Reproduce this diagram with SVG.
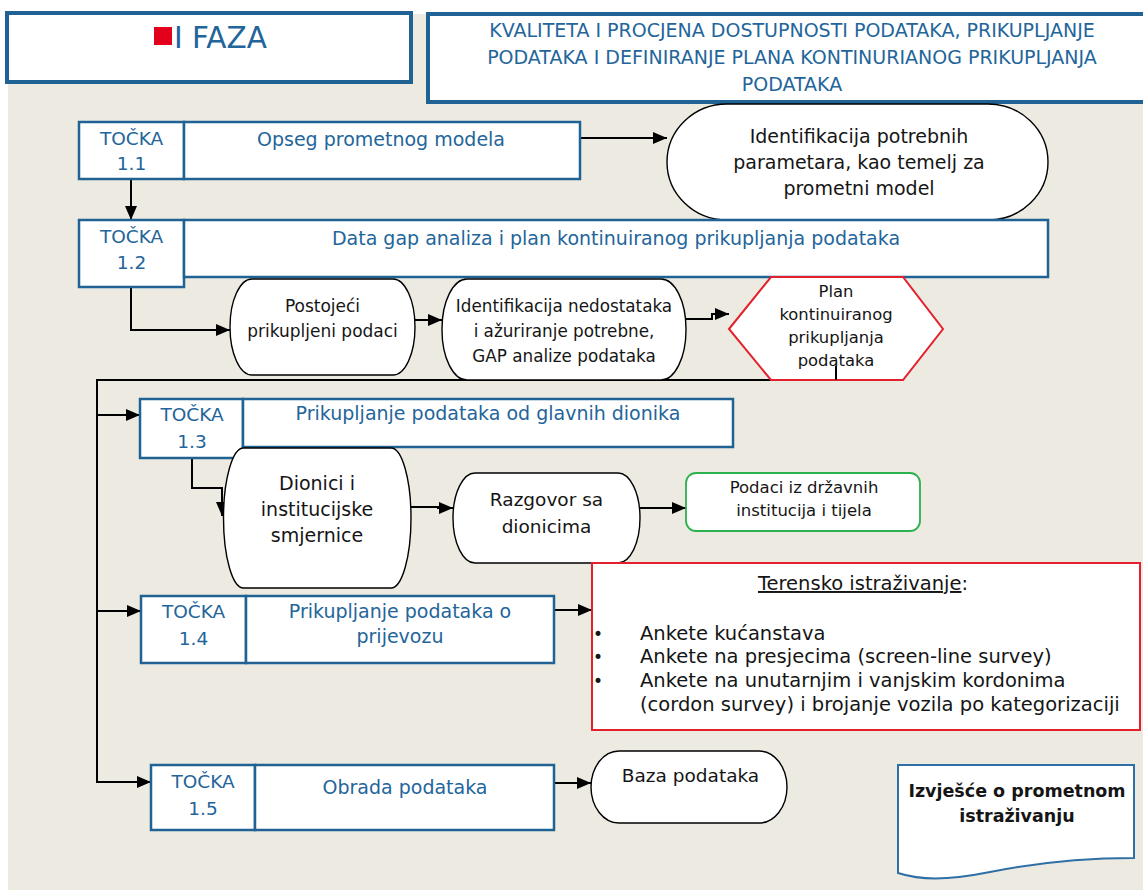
<svg xmlns="http://www.w3.org/2000/svg" width="1143" height="890" viewBox="0 0 1143 890">
<defs>
<marker id="ah" markerWidth="14" markerHeight="12" refX="14" refY="6" orient="auto" markerUnits="userSpaceOnUse"><path d="M0,0 L14,6 L0,12 Z" fill="#000"/></marker>
<style>
.bg{fill:#EDEBE1}
.hdr{fill:#fff;stroke:#1F6293;stroke-width:4}
.box{fill:#fff;stroke:#1F6293;stroke-width:2.5}
.term{fill:#fff;stroke:#000;stroke-width:1.4}
.red{fill:#fff;stroke:#E3202B;stroke-width:2}
.conn{fill:none;stroke:#000;stroke-width:2}
text{font-family:"DejaVu Sans","Liberation Sans",sans-serif}
.bt{fill:#23659A;font-size:19px;text-anchor:middle}
.tk{fill:#23659A;font-size:18.5px;text-anchor:middle}
.k{fill:#151515;text-anchor:middle}
</style>
</defs>
<rect width="1143" height="890" fill="#fff"/>
<rect class="bg" x="8" y="14" width="1135" height="876"/>

<g id="faza">
<rect class="hdr" x="7" y="13" width="404" height="69"/>
<rect x="154" y="27" width="18" height="18" fill="#E2001A"/>
<text x="174" y="48" font-size="29.5" fill="#23659A">I FAZA</text>
</g>

<g id="title">
<rect class="hdr" x="428" y="14" width="730" height="88"/>
<text class="bt" x="792" y="37">KVALITETA I PROCJENA DOSTUPNOSTI PODATAKA, PRIKUPLJANJE</text>
<text class="bt" x="792" y="64">PODATAKA I DEFINIRANJE PLANA KONTINURIANOG PRIKUPLJANJA</text>
<text class="bt" x="792" y="91">PODATAKA</text>
</g>

<g id="connectors">
<path class="conn" d="M580,138 H667" marker-end="url(#ah)"/>
<path class="conn" d="M131,179 V220" marker-end="url(#ah)"/>
<path class="conn" d="M131,287 V330 H230" marker-end="url(#ah)"/>
<path class="conn" d="M415,320 H442" marker-end="url(#ah)"/>
<path class="conn" d="M686,319 H712 V314 H729" marker-end="url(#ah)"/>
<path class="conn" d="M836,366 V380 H97 V782 H151" marker-end="url(#ah)"/>
<path class="conn" d="M97,415 H140" marker-end="url(#ah)"/>
<path class="conn" d="M97,611 H141" marker-end="url(#ah)"/>
<path class="conn" d="M192,458 V488 H222 V516" marker-end="url(#ah)"/>
<path class="conn" d="M410,507 H438 V508 H453" marker-end="url(#ah)"/>
<path class="conn" d="M640,508 H686" marker-end="url(#ah)"/>
<path class="conn" d="M554,610 H592" marker-end="url(#ah)"/>
<path class="conn" d="M554,783 H591" marker-end="url(#ah)"/>
</g>

<g id="t11">
<rect class="box" x="79" y="122" width="105" height="57"/>
<rect class="box" x="184" y="122" width="396" height="57"/>
<text class="tk" x="131.5" y="145">TOČKA</text>
<text class="tk" x="131.5" y="170">1.1</text>
<text class="bt" x="381" y="146">Opseg prometnog modela</text>
</g>

<g id="ident">
<rect class="term" x="667" y="104" width="381" height="116" rx="60" ry="58"/>
<text class="k" font-size="19" x="859" y="143">Identifikacija potrebnih</text>
<text class="k" font-size="19" x="859" y="169">parametara, kao temelj za</text>
<text class="k" font-size="19" x="859" y="195">prometni model</text>
</g>

<g id="t12">
<rect class="box" x="79" y="220" width="105" height="67"/>
<rect class="box" x="184" y="220" width="864" height="57"/>
<text class="tk" x="131.5" y="243">TOČKA</text>
<text class="tk" x="131.5" y="269">1.2</text>
<text class="bt" x="616" y="245">Data gap analiza i plan kontinuiranog prikupljanja podataka</text>
</g>

<g id="postojeci">
<rect class="term" x="230" y="279" width="185" height="96" rx="22" ry="48"/>
<text class="k" font-size="17" x="322.5" y="312">Postojeći</text>
<text class="k" font-size="17" x="322.5" y="337">prikupljeni podaci</text>
</g>

<g id="nedostaci">
<rect class="term" x="442" y="279" width="244" height="101" rx="25" ry="50"/>
<text class="k" font-size="16.8" x="564" y="312">Identifikacija nedostataka</text>
<text class="k" font-size="16.8" x="564" y="337">i ažuriranje potrebne,</text>
<text class="k" font-size="16.8" x="564" y="362">GAP analize podataka</text>
</g>

<g id="plan">
<polygon class="red" points="729,329 771,277 903,277 943,329 903,380 771,380"/>
<text class="k" font-size="16.4" x="836" y="297">Plan</text>
<text class="k" font-size="16.4" x="836" y="320">kontinuiranog</text>
<text class="k" font-size="16.4" x="836" y="343">prikupljanja</text>
<text class="k" font-size="16.4" x="836" y="366">podataka</text>
</g>
<path class="conn" d="M836,366 V380"/>

<g id="t13">
<rect class="box" x="140" y="399" width="103" height="59"/>
<rect class="box" x="243" y="399" width="490" height="48"/>
<text class="tk" x="192" y="421">TOČKA</text>
<text class="tk" x="192" y="448">1.3</text>
<text class="bt" x="488" y="420">Prikupljanje podataka od glavnih dionika</text>
</g>

<g id="dionici">
<rect class="term" x="223.5" y="448" width="187.5" height="140" rx="20" ry="70"/>
<text class="k" font-size="19" x="317" y="490">Dionici i</text>
<text class="k" font-size="19" x="317" y="516">institucijske</text>
<text class="k" font-size="19" x="317" y="542">smjernice</text>
</g>

<g id="razgovor">
<rect class="term" x="453" y="473" width="187" height="90" rx="22" ry="45"/>
<text class="k" font-size="18.5" x="546.5" y="506">Razgovor sa</text>
<text class="k" font-size="18.5" x="546.5" y="533">dionicima</text>
</g>

<g id="podaci">
<rect x="686" y="473" width="234" height="58" rx="10" fill="#fff" stroke="#2DB14E" stroke-width="1.8"/>
<text class="k" font-size="16.5" x="804" y="493">Podaci iz državnih</text>
<text class="k" font-size="16.5" x="804" y="516">institucija i tijela</text>
</g>

<g id="terensko">
<rect class="red" x="592" y="563" width="548" height="167"/>
<text class="k" font-size="19.5" x="863" y="590"><tspan text-decoration="underline">Terensko istraživanje</tspan>:</text>
<g font-size="19.5" fill="#151515">
<text x="593" y="640" font-size="17">•</text>
<text x="593" y="663" font-size="17">•</text>
<text x="593" y="687" font-size="17">•</text>
<text x="640" y="640">Ankete kućanstava</text>
<text x="640" y="663">Ankete na presjecima (screen-line survey)</text>
<text x="640" y="687">Ankete na unutarnjim i vanjskim kordonima</text>
<text x="640" y="711">(cordon survey) i brojanje vozila po kategorizaciji</text>
</g>
</g>

<g id="t14">
<rect class="box" x="141" y="596" width="105" height="67"/>
<rect class="box" x="246" y="596" width="308" height="67"/>
<text class="tk" x="193.5" y="618">TOČKA</text>
<text class="tk" x="193.5" y="645">1.4</text>
<text class="bt" x="400" y="618">Prikupljanje podataka o</text>
<text class="bt" x="400" y="643">prijevozu</text>
</g>

<g id="t15">
<rect class="box" x="151" y="765" width="104" height="65"/>
<rect class="box" x="255" y="765" width="299" height="65"/>
<text class="tk" x="203" y="788">TOČKA</text>
<text class="tk" x="203" y="815">1.5</text>
<text class="bt" x="405" y="794">Obrada podataka</text>
</g>

<g id="baza">
<rect class="term" x="591" y="751" width="196" height="72" rx="28" ry="36"/>
<text class="k" font-size="18.5" x="690.5" y="782">Baza podataka</text>
</g>

<g id="izvjesce">
<path d="M898,765 H1134 V858 C1090,858 1040,862 990,872 C945,881 920,880 898,873 Z" fill="#fff" stroke="#2E6FA8" stroke-width="2"/>
<text class="k" font-size="17.5" font-weight="bold" x="1017" y="797">Izvješće o prometnom</text>
<text class="k" font-size="17.5" font-weight="bold" x="1017" y="822">istraživanju</text>
</g>
</svg>
